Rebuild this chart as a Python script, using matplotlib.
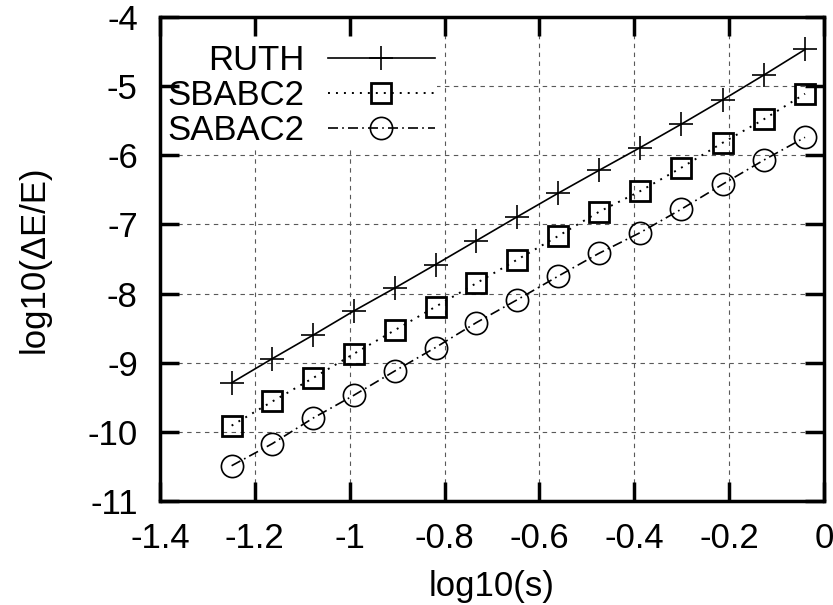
import numpy as np
import matplotlib
matplotlib.use("Agg")
import matplotlib.pyplot as plt

# values
log_s = [-1.249, -1.163, -1.077, -0.991, -0.905, -0.819, -0.733, -0.647,
         -0.561, -0.475, -0.388, -0.301, -0.214, -0.127, -0.040]
ruth = [-9.29, -8.94, -8.60, -8.25, -7.92, -7.58, -7.235, -6.89,
        -6.55, -6.22, -5.89, -5.55, -5.20, -4.84, -4.47]
sbabc2 = [-9.91, -9.56, -9.22, -8.87, -8.53, -8.19, -7.85, -7.51,
          -7.17, -6.82, -6.52, -6.18, -5.82, -5.48, -5.11]
sabac2 = [-10.49, -10.17, -9.80, -9.47, -9.12, -8.78, -8.42, -8.09,
          -7.75, -7.42, -7.12, -6.78, -6.42, -6.07, -5.74]

xticks = [-1.4, -1.2, -1, -0.8, -0.6, -0.4, -0.2, 0]
xticklabels = ["-1.4", "-1.2", "-1", "-0.8", "-0.6", "-0.4", "-0.2", "0"]
yticks = [-11, -10, -9, -8, -7, -6, -5, -4]

FS = 25
plt.rcParams['font.family'] = ['Liberation Sans', 'DejaVu Sans']
plt.rcParams['font.size'] = FS

fig = plt.figure(figsize=(8.33, 6.05), dpi=100)
ax = fig.add_axes([160/833, 1 - 501/605, 664/833, 484/605])

ax.set_xlim(-1.4, 0)
ax.set_ylim(-11, -4)
ax.set_xticks(xticks)
ax.set_xticklabels(xticklabels)
ax.set_yticks(yticks)
ax.set_yticklabels([str(v) for v in yticks])

# grid drawn by hand so the ticks can sit above the legend
for xv in ax.get_xticks()[1:-1]:
    ax.axvline(xv, color='0.35', lw=0.8, ls=(0, (4, 4)), zorder=1)
for yv in ax.get_yticks()[1:-1]:
    ax.axhline(yv, color='0.35', lw=0.8, ls=(0, (4, 4)), zorder=1)

ax.plot(log_s, ruth, color='black', lw=1.2, ls='-', marker='+', ms=17,
        mew=1.2, label='RUTH', zorder=4)
ax.plot(log_s, sbabc2, color='black', lw=1.4, ls=(0, (1, 3.1)), marker='s',
        ms=15, mew=2.0, mfc='none', label='SBABC2', zorder=4)
ax.plot(log_s, sabac2, color='black', lw=1.2, ls=(0, (6, 2.5, 1, 2.5)),
        marker='o', ms=16, mew=1.2, mfc='none', label='SABAC2', zorder=4)

ax.set_axisbelow(False)
for sp in ax.spines.values():
    sp.set_linewidth(2.5)
    sp.set_zorder(5)
ax.tick_params(direction='in', length=14, width=2.5, top=True, right=True,
               labelsize=FS)
ax.tick_params(axis='y', pad=16)
ax.tick_params(axis='x', pad=15)

ax.set_xlabel('log10(s)', fontsize=FS)
ax.set_ylabel('log10(\u0394E/E)', fontsize=FS)
ax.xaxis.set_label_coords(0.5, -0.143)
ax.yaxis.set_label_coords(-0.165, 0.5)

leg = ax.legend(loc='upper left', bbox_to_anchor=(0.009, 1.0), markerfirst=False,
                frameon=True, fancybox=False, edgecolor='none', facecolor='white',
                framealpha=1, handlelength=3.1, handletextpad=0.66,
                labelspacing=0.05, borderpad=0.05, borderaxespad=0,
                title=' ', title_fontsize=19)
leg.set_zorder(2)

fig.savefig('out.png', dpi=100)
